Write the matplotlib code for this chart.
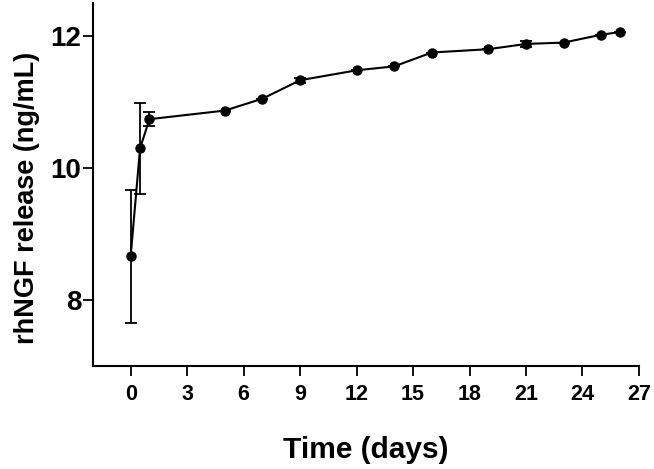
import matplotlib
matplotlib.use("Agg")
import matplotlib.pyplot as plt

days = [0, 0.5, 1, 5, 7, 9, 12, 14, 16, 19, 21, 23, 25, 26]
release = [8.66, 10.30, 10.74, 10.87, 11.05, 11.33, 11.48, 11.54, 11.75, 11.80, 11.88, 11.90, 12.02, 12.06]
err = [1.01, 0.69, 0.11, 0.0, 0.0, 0.04, 0.0, 0.0, 0.0, 0.0, 0.04, 0.0, 0.0, 0.0]
xticks = [0, 3, 6, 9, 12, 15, 18, 21, 24, 27]
yticks = [8, 10, 12]

plt.rcParams['font.family'] = ['Liberation Sans', 'DejaVu Sans']
plt.rcParams['font.weight'] = 'bold'

fig = plt.figure(figsize=(6.54, 4.69), dpi=100)
ax = fig.add_axes([0.1422, 0.2196, 0.977 - 0.1422, 0.9936 - 0.2196])

ax.errorbar(days, release, yerr=err, fmt='-o', color='black', lw=1.5,
            markersize=6.5, capsize=4, elinewidth=1.3, capthick=1.3)

ax.set_xlim(-2, 27)
ax.set_ylim(7, 12.5)
ax.set_xticks(xticks)
ax.set_yticks(yticks)
for s in ['top', 'right']:
    ax.spines[s].set_visible(False)
for s in ['left', 'bottom']:
    ax.spines[s].set_linewidth(1.5)
ax.tick_params(axis='both', length=7, width=1.3)
ax.tick_params(axis='x', labelsize=15.5, pad=6)
ax.tick_params(axis='y', labelsize=20, pad=1.5)
for lab in ax.get_xticklabels() + ax.get_yticklabels():
    lab.set_fontweight('bold')

ax.set_xlabel('Time (days)', fontsize=21.5, fontweight='bold', labelpad=22)
ax.set_ylabel('rhNGF release (ng/mL)', fontsize=19.5, fontweight='bold')
ax.yaxis.set_label_coords(-0.097, 0.464)

fig.savefig('out.png', dpi=100)
